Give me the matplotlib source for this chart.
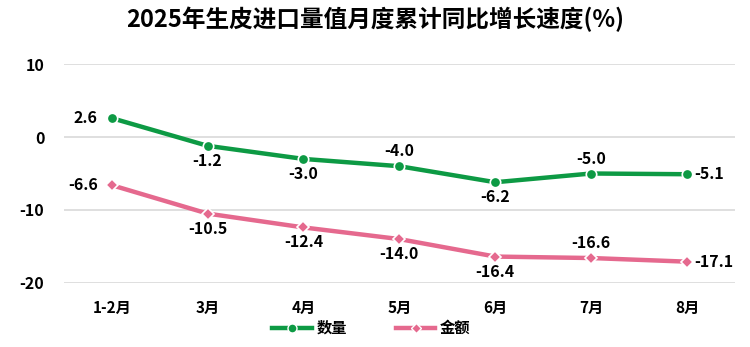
import matplotlib
matplotlib.use("Agg")
import matplotlib.pyplot as plt
from matplotlib.lines import Line2D

plt.rcParams['font.family'] = ['Noto Sans CJK SC', 'DejaVu Sans']
plt.rcParams['font.weight'] = 'bold'
plt.rcParams['axes.unicode_minus'] = False

# 月度累计同比数据
months = ["1-2月", "3月", "4月", "5月", "6月", "7月", "8月"]
qty = [2.6, -1.2, -3.0, -4.0, -6.2, -5.0, -5.1]
amount = [-6.6, -10.5, -12.4, -14.0, -16.4, -16.6, -17.1]
yticks = [10, 0, -10, -20]

green = "#0d9a44"
pink = "#e5698e"

fig = plt.figure(figsize=(7.5, 3.47), dpi=100)
ax = fig.add_axes([0.085, 0.185, 0.895, 0.63])
x = list(range(len(months)))

ax.plot(x, qty, color=green, lw=3.2, marker="o", ms=7.5,
        markerfacecolor=green, markeredgecolor="white", markeredgewidth=1.2, zorder=3)
ax.plot(x, amount, color=pink, lw=3.2, marker="D", ms=6,
        markerfacecolor=pink, markeredgecolor="white", markeredgewidth=1.2, zorder=3)

# 标签位置：left / below / above / right
qty_pos = ["left", "below", "below", "above", "below", "above", "right"]
amt_pos = ["left", "below", "below", "below", "below", "above", "right"]

def put_labels(vals, pos):
    for i, (v, p) in enumerate(zip(vals, pos)):
        if p == "left":
            ax.annotate(f"{v:.1f}", (i, v), xytext=(-10, 0), textcoords="offset points",
                        ha="right", va="center", fontsize=11.5, fontweight="bold")
        elif p == "right":
            ax.annotate(f"{v:.1f}", (i, v), xytext=(5, 0), textcoords="offset points",
                        ha="left", va="center", fontsize=11.5, fontweight="bold")
        elif p == "above":
            ax.annotate(f"{v:.1f}", (i, v), xytext=(0, 5), textcoords="offset points",
                        ha="center", va="bottom", fontsize=11.5, fontweight="bold")
        else:
            ax.annotate(f"{v:.1f}", (i, v), xytext=(0, -5), textcoords="offset points",
                        ha="center", va="top", fontsize=11.5, fontweight="bold")

put_labels(qty, qty_pos)
put_labels(amount, amt_pos)

ax.set_xlim(-0.5, len(months) - 0.5)
ax.set_ylim(-20, 10)
ax.set_yticks(yticks)
ax.set_xticks(x)
ax.set_xticklabels(months, fontsize=11, fontweight="bold")
ax.tick_params(axis="y", labelsize=11.5, length=0, pad=14)
ax.tick_params(axis="x", length=0, pad=12)
for lab in ax.get_yticklabels():
    lab.set_fontweight("bold")
ax.grid(axis="y", color="#d9d9d9", lw=1.2)
ax.set_axisbelow(True)
for s in ax.spines.values():
    s.set_visible(False)

fig.suptitle("2025年生皮进口量值月度累计同比增长速度(%)", fontsize=17,
             fontweight="bold", y=0.98)

handles = [
    Line2D([], [], color=green, lw=3.2, marker="o", ms=6.5, markerfacecolor=green,
           markeredgecolor="white", markeredgewidth=1),
    Line2D([], [], color=pink, lw=3.2, marker="D", ms=5, markerfacecolor=pink,
           markeredgecolor="white", markeredgewidth=1),
]
fig.legend(handles, ["数量", "金额"], loc="center", bbox_to_anchor=(0.495, 0.055),
           ncol=2, frameon=False, handlelength=2.6, columnspacing=3.2,
           handletextpad=0.3, prop={"weight": "bold", "size": 11})

fig.savefig("out.png", dpi=100)
